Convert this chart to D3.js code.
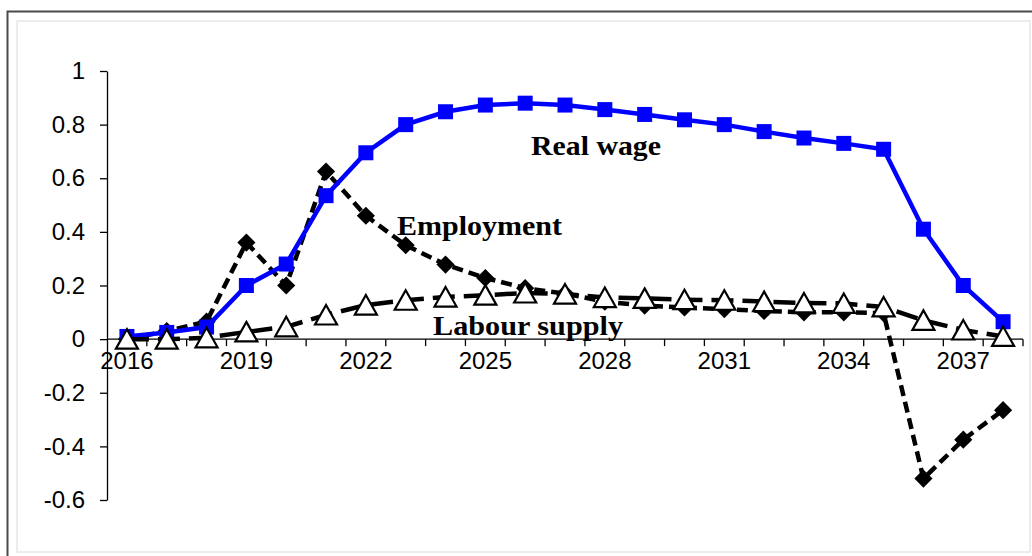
<!DOCTYPE html>
<html><head><meta charset="utf-8">
<script src="https://cdn.jsdelivr.net/npm/d3@7"></script>
<style>body{margin:0;background:#fff;} svg{display:block;}</style>
</head><body>
<script>
const years = ["2016","2017","2018","2019","2020","2021","2022","2023","2024","2025","2026","2027","2028","2029","2030","2031","2032","2033","2034","2035","2036","2037","2038"];
const realWage   = [0.01,0.025,0.045,0.20,0.28,0.535,0.695,0.80,0.848,0.873,0.88,0.873,0.856,0.838,0.818,0.80,0.774,0.75,0.73,0.708,0.41,0.20,0.065];
const employment = [0.0,0.03,0.065,0.36,0.20,0.625,0.46,0.35,0.278,0.228,0.19,0.17,0.14,0.125,0.118,0.112,0.105,0.10,0.10,0.097,-0.52,-0.375,-0.265];
const labour     = [0.0,0.0,0.005,0.027,0.046,0.09,0.127,0.145,0.157,0.164,0.172,0.168,0.155,0.152,0.147,0.145,0.14,0.135,0.133,0.12,0.07,0.034,0.01];
const yTicks = [-0.6,-0.4,-0.2,0,0.2,0.4,0.6,0.8,1];
const xTickLabels = ["2016","2019","2022","2025","2028","2031","2034","2037"];
const seriesLabels = ["Real wage","Employment","Labour supply"];

const W = 1032, H = 556;
const svg = d3.select("body").append("svg").attr("width", W).attr("height", H);

// frame
svg.append("rect").attr("x",17).attr("y",21).attr("width",1030-17).attr("height",552-21)
  .attr("fill","none").attr("stroke","#e6e6e6").attr("stroke-width",1.5);
svg.append("path").attr("d","M7.5,556 L7.5,11.5 L1032,11.5").attr("fill","none").attr("stroke","#4a4a4a").attr("stroke-width",2);

const x = d3.scaleBand().domain(years).range([107,1023]).padding(0);
const cx = d => x(d) + x.bandwidth()/2;
const y = d3.scaleLinear().domain([-0.6,1]).range([500,71]);

// y axis
const yAxis = d3.axisLeft(y).tickValues(yTicks).tickSize(7).tickSizeOuter(0)
  .tickFormat(d => String(+d.toFixed(1)).replace("\u2212","-"));
const gy = svg.append("g").attr("transform","translate(107,0)").call(yAxis);
gy.select(".domain").attr("stroke","#000").attr("stroke-width",1.3);
gy.selectAll(".tick line").attr("stroke","#000").attr("stroke-width",1.3);
gy.selectAll(".tick text").attr("x",-22).attr("font-family","Liberation Sans, Arial, sans-serif")
  .attr("font-size",24).attr("fill","#000");

// x axis at y=0
const boundaries = years.map(d => x(d)).concat([x(years[years.length-1]) + x.bandwidth()]);
const gx = svg.append("g").attr("transform",`translate(0,${y(0)})`);
gx.append("line").attr("x1",107).attr("x2",1023).attr("y1",0).attr("y2",0).attr("stroke","#000").attr("stroke-width",1.3);
gx.selectAll("line.tk").data(boundaries.slice(1)).enter().append("line").attr("class","tk")
  .attr("x1",d=>d).attr("x2",d=>d).attr("y1",0).attr("y2",7).attr("stroke","#000").attr("stroke-width",1.3);
gx.selectAll("text").data(xTickLabels).enter().append("text")
  .attr("x",d=>cx(d)).attr("y",30).attr("text-anchor","middle")
  .attr("font-family","Liberation Sans, Arial, sans-serif").attr("font-size",24).attr("fill","#000").text(d=>d);

const line = d3.line().x((d,i)=>cx(years[i])).y(d=>y(d));

// Employment
svg.append("path").datum(employment).attr("d",line).attr("fill","none").attr("stroke","#000")
  .attr("stroke-width",4.5).attr("stroke-dasharray","11,6");
svg.selectAll("path.dia").data(employment).enter().append("path").attr("class","dia")
  .attr("d", d3.symbol().type(d3.symbolSquare).size(165))
  .attr("transform",(d,i)=>`translate(${cx(years[i])},${y(d)}) rotate(45)`).attr("fill","#000");

// Real wage
svg.append("path").datum(realWage).attr("d",line).attr("fill","none").attr("stroke","#0000ff").attr("stroke-width",4.5);
svg.selectAll("rect.sq").data(realWage).enter().append("rect").attr("class","sq")
  .attr("x",(d,i)=>cx(years[i])-7.5).attr("y",d=>y(d)-7.5).attr("width",15).attr("height",15).attr("fill","#0000ff");

// Labour supply
svg.append("path").datum(labour).attr("d",line).attr("fill","none").attr("stroke","#000")
  .attr("stroke-width",4.5).attr("stroke-dasharray","22,9");
svg.selectAll("path.tri").data(labour).enter().append("path").attr("class","tri")
  .attr("d","M0,-10 L11,9.5 L-11,9.5 Z")
  .attr("transform",(d,i)=>`translate(${cx(years[i])},${y(d)})`)
  .attr("fill","#fff").attr("stroke","#000").attr("stroke-width",2.2);

// series labels
const lab = [
  {t:seriesLabels[0], x:531, y:155, w:130},
  {t:seriesLabels[1], x:397, y:235, w:165},
  {t:seriesLabels[2], x:433, y:335, w:190}
];
svg.selectAll("text.lab").data(lab).enter().append("text").attr("class","lab")
  .attr("x",d=>d.x).attr("y",d=>d.y).attr("textLength",d=>d.w).attr("lengthAdjust","spacingAndGlyphs")
  .attr("font-family","Liberation Serif, Times New Roman, serif").attr("font-weight","bold")
  .attr("font-size",28).attr("fill","#000").text(d=>d.t);
</script>
</body></html>
